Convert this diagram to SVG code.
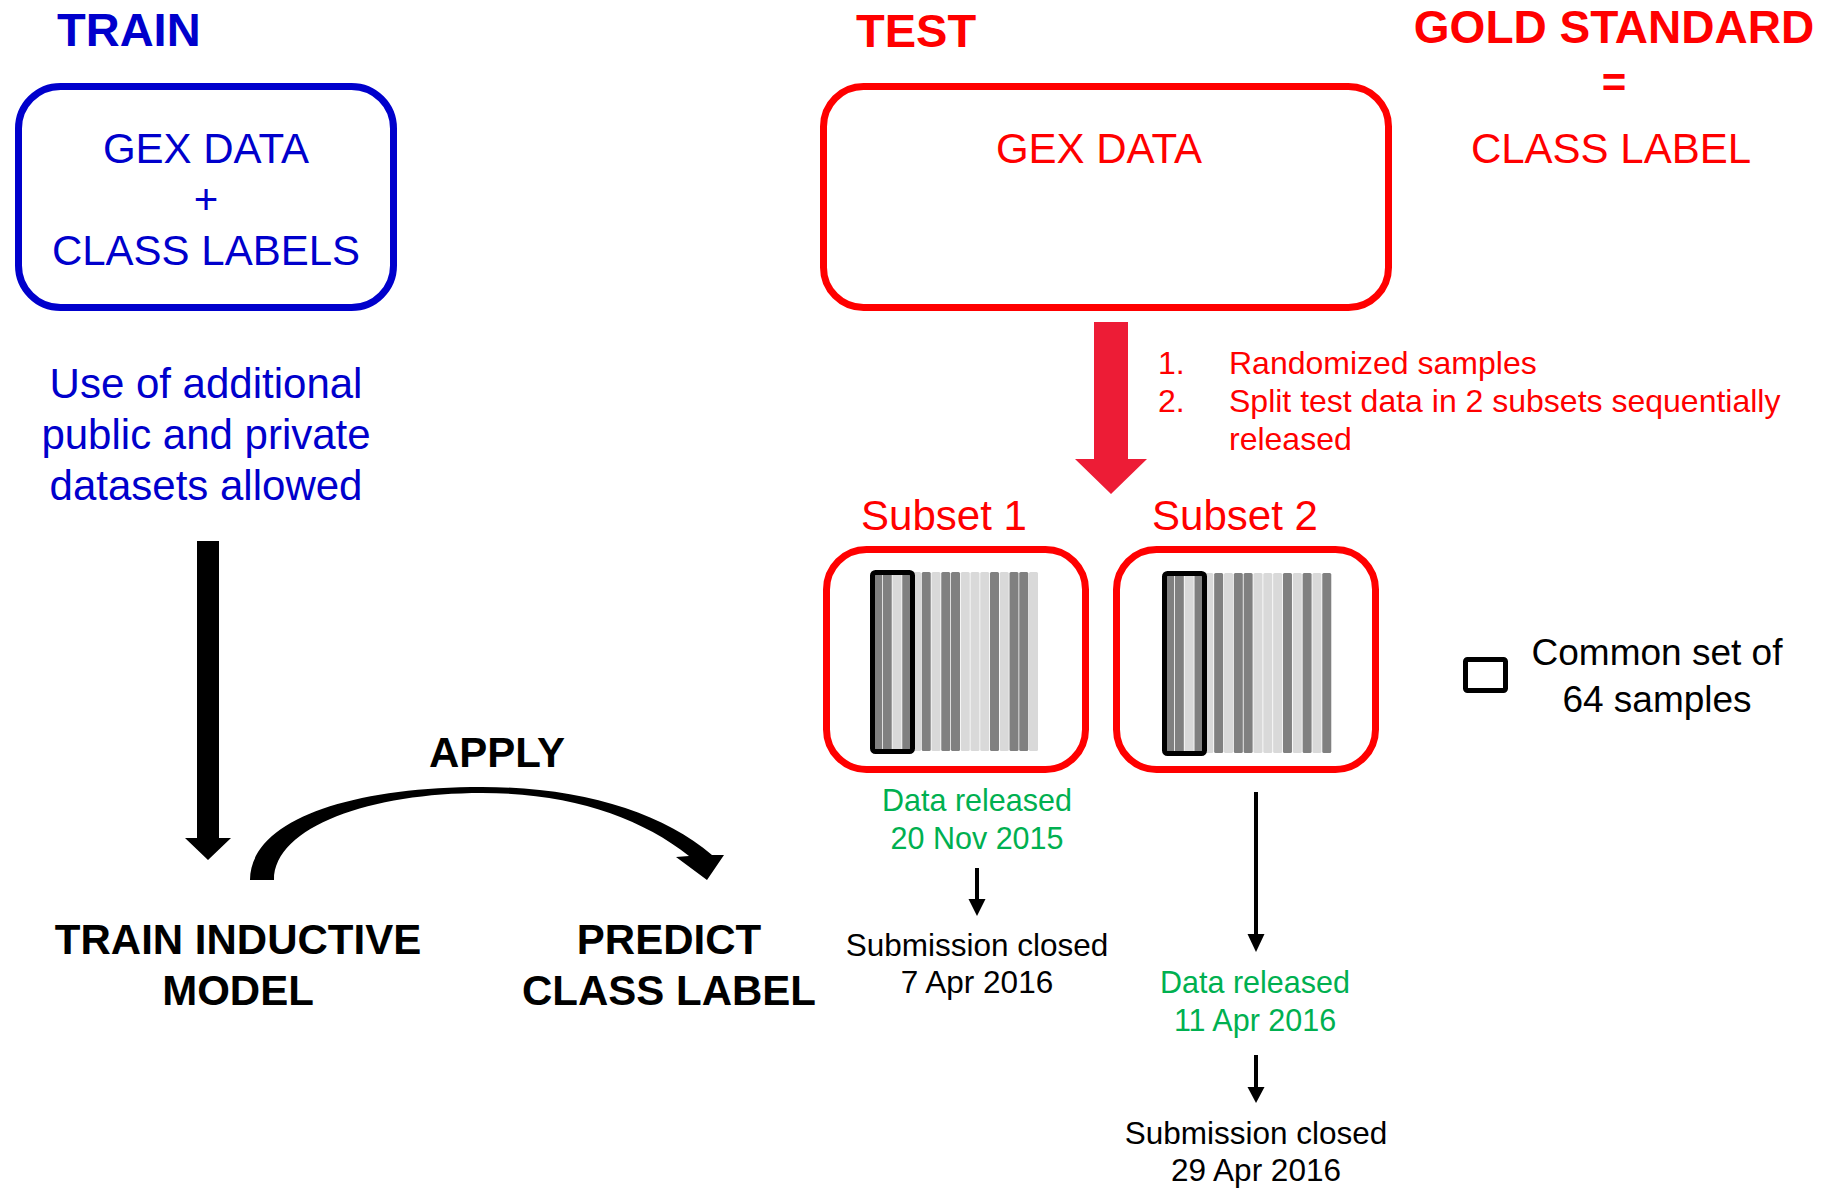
<svg xmlns="http://www.w3.org/2000/svg" width="1839" height="1188" viewBox="0 0 1839 1188">
<style>
text{font-family:"Liberation Sans",Arial,sans-serif}
.b{font-weight:bold}
.blue{fill:#0000cc}
.red{fill:#ff0000}
.grn{fill:#00b050}
.blk{fill:#000}
.mid{text-anchor:middle}
.bx{fill:#fff;stroke-width:7}
.cs{fill:none;stroke:#000;stroke-width:5}
.d{fill:#808080}
.l{fill:#d9d9d9}
</style>
<rect width="1839" height="1188" fill="#fff"/>
<g id="train-title"><text class="b blue" x="57" y="46" font-size="47">TRAIN</text></g>
<g id="test-title"><text class="b red" x="856" y="47" font-size="47">TEST</text></g>
<g id="gold-standard">
<text class="b red mid" x="1614" y="43" font-size="46">GOLD STANDARD</text>
<text class="b red mid" x="1614" y="97" font-size="42">=</text>
<text class="red mid" x="1611" y="163" font-size="42">CLASS LABEL</text>
</g>
<g id="train-box">
<rect class="bx" x="18.5" y="86.5" width="375" height="221" rx="42" stroke="#0000cc"/>
<text class="blue mid" x="206" y="163" font-size="42">GEX DATA</text>
<text class="blue mid" x="206" y="214" font-size="42">+</text>
<text class="blue mid" x="206" y="265" font-size="42">CLASS LABELS</text>
</g>
<g id="train-note">
<text class="blue mid" x="206" y="398" font-size="42">Use of additional</text>
<text class="blue mid" x="206" y="449" font-size="42">public and private</text>
<text class="blue mid" x="206" y="500" font-size="42">datasets allowed</text>
</g>
<g id="test-box">
<rect class="bx" x="823.5" y="86.5" width="565" height="221" rx="40" stroke="#ff0000"/>
<text class="red mid" x="1099" y="163" font-size="42">GEX DATA</text>
</g>
<g id="steps">
<text class="red" x="1158" y="374" font-size="32">1.</text>
<text class="red" x="1229" y="374" font-size="32">Randomized samples</text>
<text class="red" x="1158" y="412" font-size="32">2.</text>
<text class="red" x="1229" y="412" font-size="32">Split test data in 2 subsets sequentially</text>
<text class="red" x="1229" y="450" font-size="32">released</text>
</g>
<g id="subset1">
<text class="red mid" x="944" y="530" font-size="42">Subset 1</text>
<rect class="bx" x="826.5" y="549.5" width="259" height="220" rx="40" stroke="#ff0000"/>
<g transform="translate(873,572)">
<rect class="d" x="0" width="9" height="179" rx="1.5"/>
<rect class="d" x="9.75" width="9" height="179" rx="1.5"/>
<rect class="l" x="19.5" width="9" height="179" rx="1.5"/>
<rect class="d" x="29.25" width="9" height="179" rx="1.5"/>
<rect class="l" x="39" width="9" height="179" rx="1.5"/>
<rect class="d" x="48.75" width="9" height="179" rx="1.5"/>
<rect class="l" x="58.5" width="9" height="179" rx="1.5"/>
<rect class="d" x="68.25" width="9" height="179" rx="1.5"/>
<rect class="d" x="78" width="9" height="179" rx="1.5"/>
<rect class="l" x="87.75" width="9" height="179" rx="1.5"/>
<rect class="l" x="97.5" width="9" height="179" rx="1.5"/>
<rect class="l" x="107.25" width="9" height="179" rx="1.5"/>
<rect class="d" x="117" width="9" height="179" rx="1.5"/>
<rect class="l" x="126.75" width="9" height="179" rx="1.5"/>
<rect class="d" x="136.5" width="9" height="179" rx="1.5"/>
<rect class="d" x="146.25" width="9" height="179" rx="1.5"/>
<rect class="l" x="156" width="9" height="179" rx="1.5"/>
</g>
<rect class="cs" x="872.5" y="572.5" width="40" height="179" rx="3"/>
</g>
<g id="subset2">
<text class="red mid" x="1235" y="530" font-size="42">Subset 2</text>
<rect class="bx" x="1116.5" y="549.5" width="259" height="220" rx="40" stroke="#ff0000"/>
<g transform="translate(1165,573)">
<rect class="d" x="0" width="9" height="180" rx="1.5"/>
<rect class="d" x="9.83" width="9" height="180" rx="1.5"/>
<rect class="l" x="19.66" width="9" height="180" rx="1.5"/>
<rect class="d" x="29.49" width="9" height="180" rx="1.5"/>
<rect class="l" x="39.32" width="9" height="180" rx="1.5"/>
<rect class="d" x="49.15" width="9" height="180" rx="1.5"/>
<rect class="l" x="58.98" width="9" height="180" rx="1.5"/>
<rect class="d" x="68.81" width="9" height="180" rx="1.5"/>
<rect class="d" x="78.64" width="9" height="180" rx="1.5"/>
<rect class="l" x="88.47" width="9" height="180" rx="1.5"/>
<rect class="l" x="98.3" width="9" height="180" rx="1.5"/>
<rect class="l" x="108.13" width="9" height="180" rx="1.5"/>
<rect class="d" x="117.96" width="9" height="180" rx="1.5"/>
<rect class="l" x="127.79" width="9" height="180" rx="1.5"/>
<rect class="d" x="137.62" width="9" height="180" rx="1.5"/>
<rect class="l" x="147.45" width="9" height="180" rx="1.5"/>
<rect class="d" x="157.28" width="9" height="180" rx="1.5"/>
</g>
<rect class="cs" x="1164.5" y="573.5" width="40" height="180" rx="3"/>
</g>
<g id="legend">
<rect class="cs" x="1465.5" y="659.5" width="40" height="31" rx="2"/>
<text class="blk mid" x="1657" y="665" font-size="37">Common set of</text>
<text class="blk mid" x="1657" y="712" font-size="37">64 samples</text>
</g>
<g id="train-model">
<text class="b blk mid" x="238" y="954" font-size="42">TRAIN INDUCTIVE</text>
<text class="b blk mid" x="238" y="1005" font-size="42">MODEL</text>
</g>
<g id="predict">
<text class="b blk mid" x="669" y="954" font-size="42">PREDICT</text>
<text class="b blk mid" x="669" y="1005" font-size="42">CLASS LABEL</text>
</g>
<g id="dates1">
<text class="grn mid" x="977" y="811" font-size="30.5">Data released</text>
<text class="grn mid" x="977" y="849" font-size="30.5">20 Nov 2015</text>
<text class="blk mid" x="977" y="956" font-size="31.5">Submission closed</text>
<text class="blk mid" x="977" y="993" font-size="31.5">7 Apr 2016</text>
</g>
<g id="dates2">
<text class="grn mid" x="1255" y="993" font-size="30.5">Data released</text>
<text class="grn mid" x="1255" y="1031" font-size="30.5">11 Apr 2016</text>
<text class="blk mid" x="1256" y="1144" font-size="31.5">Submission closed</text>
<text class="blk mid" x="1256" y="1181" font-size="31.5">29 Apr 2016</text>
</g>
<g id="connectors">
<polygon points="197,541 219,541 219,838 231,838 208,860 185,838 197,838" fill="#000"/>
<path d="M250,880 C250,822 345,787 482,787 C580,787 662,812 712,855 L724,855 L707,880 L676,857 L689,856 C640,817 570,793 482,793 C372,793 274,826 274,880 Z" fill="#000"/>
<text class="b blk mid" x="497" y="767" font-size="42">APPLY</text>
<polygon points="1094,322 1128,322 1128,459 1147,459 1111,494 1075,459 1094,459" fill="#ed1c36"/>
<line x1="977" y1="868" x2="977" y2="901" stroke="#000" stroke-width="4"/>
<polygon points="968.5,899 985.5,899 977,916" fill="#000"/>
<line x1="1256" y1="792" x2="1256" y2="936" stroke="#000" stroke-width="4"/>
<polygon points="1247.5,934 1264.5,934 1256,952" fill="#000"/>
<line x1="1256" y1="1055" x2="1256" y2="1089" stroke="#000" stroke-width="4"/>
<polygon points="1247.5,1087 1264.5,1087 1256,1103" fill="#000"/>
</g>
</svg>
